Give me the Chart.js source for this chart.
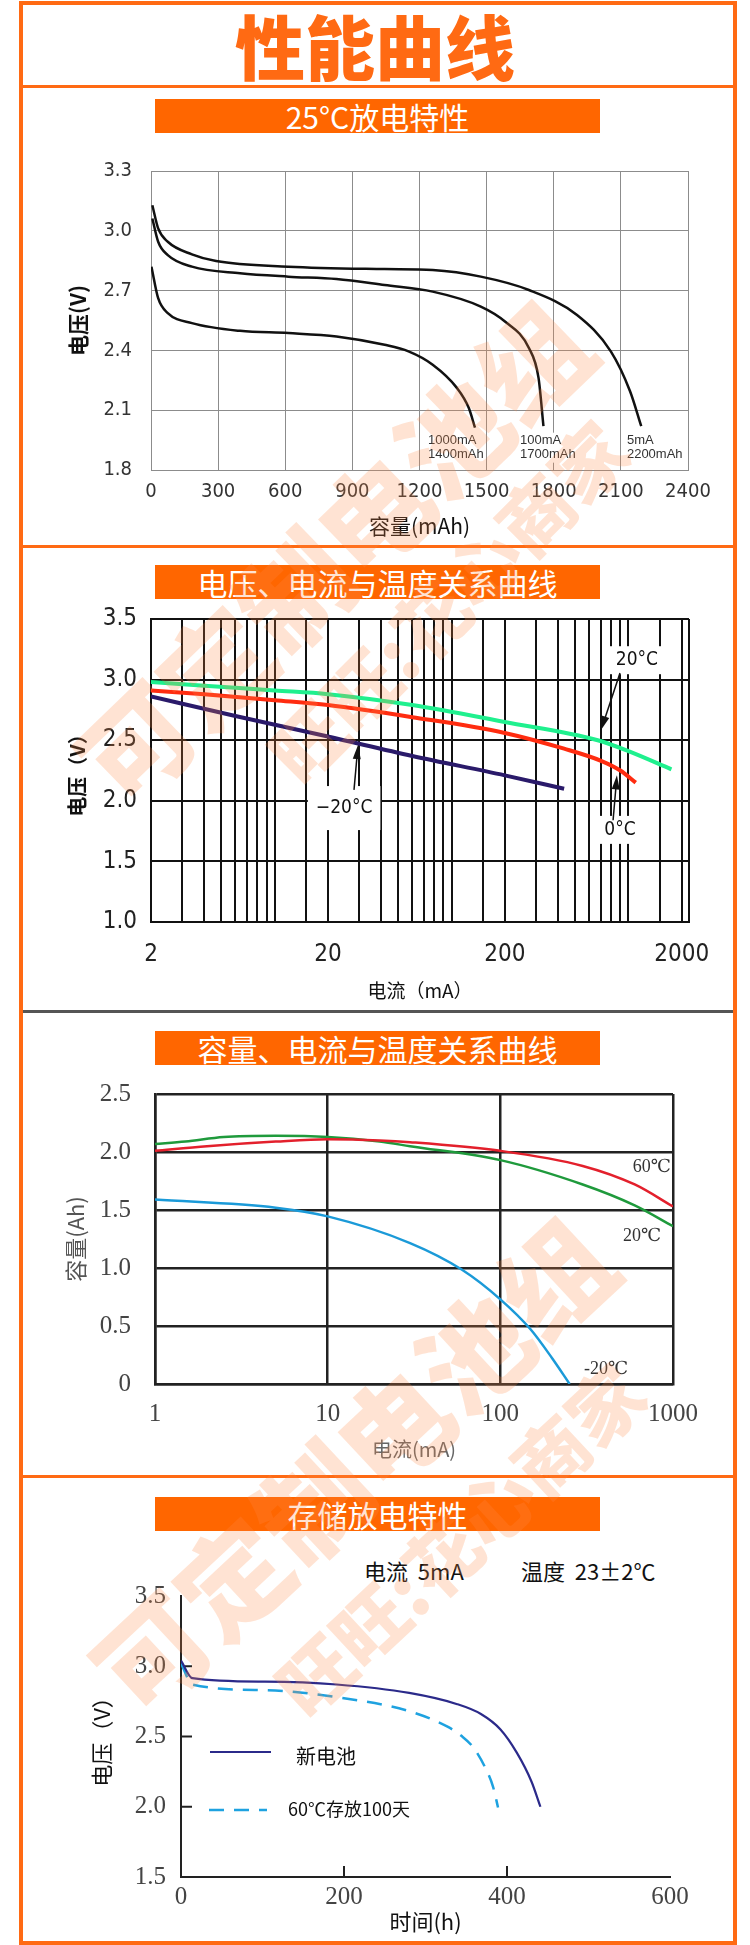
<!DOCTYPE html>
<html lang="zh-CN">
<head>
<meta charset="utf-8">
<title>性能曲线</title>
<script src="https://cdn.jsdelivr.net/npm/chart.js@4.4.1/dist/chart.umd.min.js"></script>
<style>
  html, body { margin: 0; padding: 0; }
  body { width: 750px; height: 1945px; position: relative; overflow: hidden; background: #fff;
         font-family: "Noto Sans CJK SC", "Noto Sans", sans-serif; }
  .frame { position: absolute; left: 19px; top: 1px; width: 710px; height: 1936px; border: 4px solid #ff6a13; }
  .rule { position: absolute; left: 23px; width: 710px; height: 3px; background: #ff6a13; }
  .rule.gray { background: #555; }
  .title { position: absolute; left: 0; top: 10px; width: 750px; text-align: center; font-size: 70px;
           font-weight: 900; color: #ff6a13; line-height: 1; }
  .bar { position: absolute; left: 155px; width: 445px; height: 34px; line-height: 34px; background: #ff6600;
         color: #fff; font-size: 30px; text-align: center; }
  canvas { position: absolute; left: 0; }
  .sub { position: absolute; top: 1556px; font-size: 22px; line-height: 28px; color: #111; }
  .wm { position: absolute; white-space: nowrap; font-weight: 900; color: rgba(255, 140, 70, 0.24);
        transform-origin: center center; pointer-events: none; line-height: 1; }
</style>
</head>
<body>
<div class="frame"></div>
<div class="title">性能曲线</div>
<div class="rule" style="top:85px"></div>

<div class="bar" style="top:99px">25°C放电特性</div>
<canvas id="c1" width="750" height="400" style="top:140px"></canvas>
<div class="rule" style="top:545px"></div>

<div class="bar" style="top:565px">电压、电流与温度关系曲线</div>
<canvas id="c2" width="750" height="455" style="top:550px"></canvas>
<div class="rule gray" style="top:1010px"></div>

<div class="bar" style="top:1031px">容量、电流与温度关系曲线</div>
<canvas id="c3" width="750" height="455" style="top:1015px"></canvas>
<div class="rule" style="top:1475px"></div>

<div class="bar" style="top:1497px">存储放电特性</div>
<div class="sub" style="left:364px">电流&nbsp; 5mA</div>
<div class="sub" style="left:521px">温度&nbsp; 23±2℃</div>
<canvas id="c4" width="750" height="400" style="top:1540px"></canvas>

<div class="wm" id="wm1" style="font-size:110px">可定制电池组</div>
<div class="wm" id="wm2" style="font-size:74px">旺旺:花心商家</div>
<div class="wm" id="wm3" style="font-size:110px">可定制电池组</div>
<div class="wm" id="wm4" style="font-size:74px">旺旺:花心商家</div>

<script>
// 25°C 放电特性 (容量 mAh -> 电压 V)
var cap1000 = [2, 32, 75, 183, 398, 614, 829, 1044, 1151, 1259, 1367, 1420, 1448];
var volt1000 = [2.82, 2.662, 2.587, 2.537, 2.498, 2.487, 2.47, 2.428, 2.395, 2.328, 2.212, 2.112, 2.012];
var cap100 = [6, 32, 75, 183, 398, 614, 829, 1044, 1259, 1474, 1582, 1689, 1732, 1754];
var volt100 = [3.062, 2.945, 2.878, 2.82, 2.787, 2.77, 2.758, 2.728, 2.695, 2.62, 2.545, 2.412, 2.262, 2.02];
var cap5 = [6, 32, 75, 183, 291, 614, 1044, 1259, 1474, 1689, 1904, 2055, 2141, 2191];
var volt5 = [3.128, 3.012, 2.945, 2.882, 2.848, 2.82, 2.808, 2.803, 2.77, 2.703, 2.578, 2.395, 2.195, 2.02];
var ticksCap = [0, 300, 600, 900, 1200, 1500, 1800, 2100, 2400];

// 电压、电流与温度 (电流 mA -> 电压 V)
var curP20 = [2, 4, 10, 20, 60, 200, 670, 1000, 1750];
var voltP20 = [2.98, 2.95, 2.91, 2.88, 2.79, 2.65, 2.50, 2.41, 2.26];
var cur0 = [2, 4, 10, 20, 60, 200, 433, 700, 900, 1100];
var volt0 = [2.91, 2.88, 2.83, 2.79, 2.69, 2.56, 2.43, 2.33, 2.25, 2.15];
var curM20 = [2, 6, 20, 60, 200, 433];
var voltM20 = [2.86, 2.70, 2.53, 2.37, 2.21, 2.10];
var ticksCur2 = [2, 20, 200, 2000];

// 容量、电流与温度 (电流 mA -> 容量 Ah)
var cur60 = [1, 2, 5, 10, 20, 30, 100, 300, 600, 1000];
var capA60 = [2.01, 2.05, 2.09, 2.11, 2.10, 2.085, 2.01, 1.88, 1.72, 1.53];
var cur20 = [1, 1.5, 2.5, 5, 10, 20, 30, 100, 300, 600, 1000];
var capA20 = [2.07, 2.09, 2.13, 2.14, 2.13, 2.09, 2.05, 1.93, 1.72, 1.54, 1.36];
var curN20 = [1, 5, 10, 30, 60, 100, 150, 200, 252];
var capAN20 = [1.59, 1.52, 1.445, 1.215, 0.985, 0.73, 0.47, 0.22, 0];
var ticksCur3 = [1, 10, 100, 1000];

// 存储放电特性 (时间 h -> 电压 V)
var hoursNew = [0, 14, 103, 191, 280, 339, 368, 392, 412, 430, 441];
var voltNew = [3.04, 2.915, 2.89, 2.87, 2.81, 2.73, 2.66, 2.55, 2.385, 2.18, 2.0];
var hoursOld = [0, 14, 103, 191, 280, 327, 344, 359, 374, 383, 389];
var voltOld = [3.02, 2.87, 2.83, 2.78, 2.68, 2.57, 2.505, 2.42, 2.27, 2.14, 1.995];

var NARROW = "'Liberation Sans Narrow', 'DejaVu Sans Condensed', 'Noto Sans', sans-serif";
var SERIF = "'Liberation Serif', 'DejaVu Serif', serif";
var CJK = "'Noto Sans CJK SC', sans-serif";

Chart.defaults.font.family = CJK;

function pairs(xs, ys) {
  return xs.map(function (x, i) { return {x: x, y: ys[i]}; });
}

// notes, arrows, legend and inner ticks drawn onto the plot through its scales
var drawNotes = {
  id: 'drawNotes',
  beforeDatasetsDraw: function (chart, args, opts) {
    var ctx = chart.ctx, xs = chart.scales.x, ys = chart.scales.y, area = chart.chartArea;
    (opts.labels || []).forEach(function (l) {
      var lines = [].concat(l.text);
      var x = xs.getPixelForValue(l.at[0]), y = ys.getPixelForValue(l.at[1]);
      var lh = l.lineHeight || 16;
      ctx.save();
      ctx.font = l.font;
      var w = Math.max.apply(null, lines.map(function (t) { return ctx.measureText(t).width; }));
      var h = lh * lines.length;
      var left = l.align === 'left' ? x : x - w / 2;
      if (l.box) {
        ctx.fillStyle = '#fff';
        ctx.fillRect(left - l.box[0], y - h / 2 - l.box[1], w + 2 * l.box[0], h + 2 * l.box[1]);
      }
      ctx.fillStyle = l.color || '#000';
      ctx.textBaseline = 'middle';
      ctx.textAlign = 'left';
      lines.forEach(function (t, i) { ctx.fillText(t, left, y - h / 2 + lh * (i + 0.5)); });
      ctx.restore();
    });
    if (opts.innerTicks) {
      ctx.save();
      ctx.strokeStyle = '#222';
      ctx.lineWidth = 2;
      ys.ticks.forEach(function (t) {
        if (t.value <= ys.min || t.value >= ys.max) return;
        var y = ys.getPixelForValue(t.value);
        ctx.beginPath(); ctx.moveTo(area.left, y); ctx.lineTo(area.left + opts.innerTicks, y); ctx.stroke();
      });
      xs.ticks.forEach(function (t) {
        if (t.value <= xs.min || t.value >= xs.max) return;
        var x = xs.getPixelForValue(t.value);
        ctx.beginPath(); ctx.moveTo(x, area.bottom); ctx.lineTo(x, area.bottom - opts.innerTicks); ctx.stroke();
      });
      ctx.restore();
    }
  },
  afterDatasetsDraw: function (chart, args, opts) {
    var ctx = chart.ctx, xs = chart.scales.x, ys = chart.scales.y, area = chart.chartArea;
    (opts.arrows || []).forEach(function (a) {
      var x1 = xs.getPixelForValue(a.from[0]), y1 = ys.getPixelForValue(a.from[1]);
      var x2 = xs.getPixelForValue(a.to[0]), y2 = ys.getPixelForValue(a.to[1]);
      var ang = Math.atan2(y2 - y1, x2 - x1), c = Math.cos(ang), s = Math.sin(ang);
      ctx.save();
      ctx.strokeStyle = '#111'; ctx.fillStyle = '#111'; ctx.lineWidth = 1.5;
      ctx.beginPath(); ctx.moveTo(x1, y1); ctx.lineTo(x2 - 8 * c, y2 - 8 * s); ctx.stroke();
      ctx.beginPath(); ctx.moveTo(x2, y2);
      ctx.lineTo(x2 - 14 * c + 4 * s, y2 - 14 * s - 4 * c);
      ctx.lineTo(x2 - 14 * c - 4 * s, y2 - 14 * s + 4 * c);
      ctx.closePath(); ctx.fill();
      ctx.restore();
    });
    (opts.legend || []).forEach(function (g) {
      ctx.save();
      ctx.strokeStyle = g.color; ctx.lineWidth = g.width;
      ctx.setLineDash(g.dash || []);
      ctx.beginPath();
      ctx.moveTo(area.left + g.line[0], area.top + g.line[2]);
      ctx.lineTo(area.left + g.line[1], area.top + g.line[2]);
      ctx.stroke();
      ctx.setLineDash([]);
      ctx.font = g.font; ctx.fillStyle = '#111'; ctx.textBaseline = 'middle'; ctx.textAlign = 'left';
      ctx.fillText(g.text, area.left + g.textAt[0], area.top + g.textAt[1]);
      ctx.restore();
    });
  }
};

var noTip = {legend: {display: false}, tooltip: {enabled: false}};

// 1. 25°C放电特性
new Chart(document.getElementById('c1'), {
  type: 'line',
  data: {
    datasets: [
      {data: pairs(cap1000, volt1000), borderColor: '#111', borderWidth: 2.5},
      {data: pairs(cap100, volt100), borderColor: '#111', borderWidth: 2.5},
      {data: pairs(cap5, volt5), borderColor: '#111', borderWidth: 2.5}
    ]
  },
  options: {
    responsive: false, animation: false, devicePixelRatio: 1,
    layout: {padding: {left: 65, right: 62, top: 9, bottom: 0}},
    elements: {point: {radius: 0}, line: {cubicInterpolationMode: 'monotone', fill: false}},
    plugins: Object.assign({}, noTip, {
      drawNotes: {
        labels: [
          {text: ['1000mA', '1400mAh'], at: [1238, 1.912], align: 'left', lineHeight: 14,
           font: "13px 'Liberation Sans', Arial, sans-serif", color: '#333', box: [2, 1]},
          {text: ['100mA', '1700mAh'], at: [1649, 1.912], align: 'left', lineHeight: 14,
           font: "13px 'Liberation Sans', Arial, sans-serif", color: '#333', box: [2, 1]},
          {text: ['5mA', '2200mAh'], at: [2127, 1.912], align: 'left', lineHeight: 14,
           font: "13px 'Liberation Sans', Arial, sans-serif", color: '#333', box: [2, 1]}
        ]
      }
    }),
    scales: {
      x: {
        type: 'linear', min: 0, max: 2400,
        afterBuildTicks: function (s) { s.ticks = ticksCap.map(function (v) { return {value: v}; }); },
        ticks: {padding: 10, color: '#333', font: {family: NARROW, size: 20},
                callback: function (v) { return String(v); }},
        grid: {color: '#8c8c8c', lineWidth: 1, drawTicks: false},
        border: {color: '#8c8c8c'},
        title: {display: true, text: '容量(mAh)', color: '#111', font: {size: 21}, padding: {top: 0, bottom: 1}},
        afterFit: function (s) { s.height = 70; }
      },
      y: {
        min: 1.8, max: 3.3,
        ticks: {stepSize: 0.3, padding: 19, color: '#333', font: {family: NARROW, size: 20},
                callback: function (v) { return v.toFixed(1); }},
        grid: {color: '#8c8c8c', lineWidth: 1, drawTicks: false},
        border: {color: '#8c8c8c'},
        title: {display: true, text: '电压(V)', color: '#111', font: {size: 21, weight: 'bold'}, padding: {top: 0, bottom: 0}},
        afterFit: function (s) { s.width = 86; }
      }
    }
  },
  plugins: [drawNotes]
});

// 2. 电压、电流与温度关系曲线
new Chart(document.getElementById('c2'), {
  type: 'line',
  data: {
    datasets: [
      {data: pairs(curP20, voltP20), borderColor: '#1ff08e', borderWidth: 4},
      {data: pairs(cur0, volt0), borderColor: '#ff2c10', borderWidth: 4},
      {data: pairs(curM20, voltM20), borderColor: '#2a1a6a', borderWidth: 4}
    ]
  },
  options: {
    responsive: false, animation: false, devicePixelRatio: 1,
    layout: {padding: {left: 65, right: 61, top: 69, bottom: 0}},
    elements: {point: {radius: 0}, line: {cubicInterpolationMode: 'monotone', fill: false}},
    plugins: Object.assign({}, noTip, {
      drawNotes: {
        labels: [
          {text: '20°C', at: [1117, 3.16], font: "19px " + NARROW, color: '#111', box: [7, 6]},
          {text: '−20°C', at: [24.7, 1.94], font: "19px " + NARROW, color: '#111', box: [8, 14]},
          {text: '0°C', at: [896, 1.76], font: "19px " + NARROW, color: '#111', box: [6, 6]}
        ],
        arrows: [
          {from: [896, 3.055], to: [700, 2.584]},
          {from: [28.1, 2.09], to: [29.6, 2.46]},
          {from: [819, 1.84], to: [861, 2.21]}
        ]
      }
    }),
    scales: {
      x: {
        type: 'logarithmic', min: 2, max: 2200,
        ticks: {autoSkip: false, maxRotation: 0, padding: 18, color: '#222', font: {family: NARROW, size: 24},
                callback: function (v) { return ticksCur2.indexOf(v) >= 0 ? String(v) : ''; }},
        grid: {color: '#111', lineWidth: 2, drawTicks: false},
        border: {color: '#111', width: 2},
        title: {display: true, text: '电流（mA）', color: '#111', font: {size: 19}, padding: {top: 0, bottom: 3}},
        afterFit: function (s) { s.height = 83; }
      },
      y: {
        min: 1, max: 3.5,
        ticks: {stepSize: 0.5, padding: 14, color: '#222', font: {family: NARROW, size: 24},
                callback: function (v) { return v.toFixed(1); }},
        grid: {color: '#111', lineWidth: 2, drawTicks: false},
        border: {color: '#111', width: 2},
        title: {display: true, text: '电压（V）', color: '#111', font: {size: 20, weight: 'bold'}, padding: {top: 0, bottom: 0}},
        afterFit: function (s) { s.width = 86; }
      }
    }
  },
  plugins: [drawNotes]
});

// 3. 容量、电流与温度关系曲线
new Chart(document.getElementById('c3'), {
  type: 'line',
  data: {
    datasets: [
      {data: pairs(cur60, capA60), borderColor: '#e3202c', borderWidth: 2.5},
      {data: pairs(cur20, capA20), borderColor: '#1f9a3c', borderWidth: 2.5},
      {data: pairs(curN20, capAN20), borderColor: '#1b9ad8', borderWidth: 2.5}
    ]
  },
  options: {
    responsive: false, animation: false, devicePixelRatio: 1,
    layout: {padding: {left: 62, right: 77, top: 79, bottom: 0}},
    elements: {point: {radius: 0}, line: {cubicInterpolationMode: 'monotone', fill: false}},
    plugins: Object.assign({}, noTip, {
      drawNotes: {
        labels: [
          {text: '60℃', at: [755, 1.87], font: "18px " + SERIF, color: '#333'},
          {text: '20℃', at: [661, 1.276], font: "18px " + SERIF, color: '#333'},
          {text: '-20℃', at: [409, 0.13], font: "18px " + SERIF, color: '#333'}
        ]
      }
    }),
    scales: {
      x: {
        type: 'logarithmic', min: 1, max: 1000,
        ticks: {autoSkip: false, maxRotation: 0, padding: 15, color: '#444', font: {family: SERIF, size: 25},
                callback: function (v) { return ticksCur3.indexOf(v) >= 0 ? String(v) : ''; }},
        grid: {lineWidth: 2.5, drawTicks: false,
               color: function (c) { return c.tick && ticksCur3.indexOf(c.tick.value) >= 0 ? '#222' : 'rgba(0,0,0,0)'; }},
        border: {color: '#222', width: 2.5},
        title: {display: true, text: '电流(mA)', color: '#666', font: {size: 20}, padding: {top: 0, bottom: 9}},
        afterFit: function (s) { s.height = 86; }
      },
      y: {
        min: 0, max: 2.5,
        ticks: {stepSize: 0.5, padding: 24, color: '#444', font: {family: SERIF, size: 25},
                callback: function (v) { return v === 0 ? '0' : v.toFixed(1); }},
        grid: {color: '#222', lineWidth: 2.5, drawTicks: false},
        border: {color: '#222', width: 2.5},
        title: {display: true, text: '容量(Ah)', color: '#555', font: {size: 22}, padding: {top: 0, bottom: 0}},
        afterFit: function (s) { s.width = 93; }
      }
    }
  },
  plugins: [drawNotes]
});

// 4. 存储放电特性
new Chart(document.getElementById('c4'), {
  type: 'line',
  data: {
    datasets: [
      {label: '新电池', data: pairs(hoursNew, voltNew), borderColor: '#2b2a8a', borderWidth: 2.2},
      {label: '60℃存放100天', data: pairs(hoursOld, voltOld), borderColor: '#1ea2e0', borderWidth: 2.5, borderDash: [15, 10]}
    ]
  },
  options: {
    responsive: false, animation: false, devicePixelRatio: 1,
    layout: {padding: {left: 88, right: 80, top: 56, bottom: 0}},
    elements: {point: {radius: 0}, line: {cubicInterpolationMode: 'monotone', fill: false}},
    plugins: Object.assign({}, noTip, {
      drawNotes: {
        innerTicks: 11,
        legend: [
          {text: '新电池', line: [29, 90, 156], textAt: [115, 160], color: '#2b2a8a', width: 2.2,
           font: "20px " + CJK},
          {text: '60℃存放100天', line: [28, 86, 214], textAt: [107, 213], color: '#1ea2e0', width: 2.5,
           dash: [15, 10], font: "18px " + CJK}
        ]
      }
    }),
    scales: {
      x: {
        type: 'linear', min: 0, max: 600,
        ticks: {stepSize: 200, padding: 5, color: '#444', font: {family: SERIF, size: 25}},
        grid: {drawOnChartArea: false, drawTicks: false},
        border: {color: '#222', width: 2},
        title: {display: true, text: '时间(h)', color: '#111', font: {size: 22}, padding: {top: 0, bottom: 5}},
        afterFit: function (s) { s.height = 63; }
      },
      y: {
        min: 1.5, max: 3.5,
        ticks: {stepSize: 0.5, padding: 15, color: '#444', font: {family: SERIF, size: 25},
                callback: function (v) { return v.toFixed(1); }},
        grid: {drawOnChartArea: false, drawTicks: false},
        border: {color: '#222', width: 2},
        title: {display: true, text: '电压（V）', color: '#111', font: {size: 22}, padding: {top: 0, bottom: 0}},
        afterFit: function (s) { s.width = 93; }
      }
    }
  },
  plugins: [drawNotes]
});

// watermark, centred and tilted like the original
function placeMark(id, cx, cy, deg) {
  var el = document.getElementById(id);
  el.style.left = (cx - el.offsetWidth / 2) + 'px';
  el.style.top = (cy - el.offsetHeight / 2) + 'px';
  el.style.transform = 'rotate(' + deg + 'deg)';
}
placeMark('wm1', 331, 549, -44);
placeMark('wm2', 446, 600, -45);
placeMark('wm3', 350, 1462, -43);
placeMark('wm4', 458, 1538, -43);
</script>
</body>
</html>
